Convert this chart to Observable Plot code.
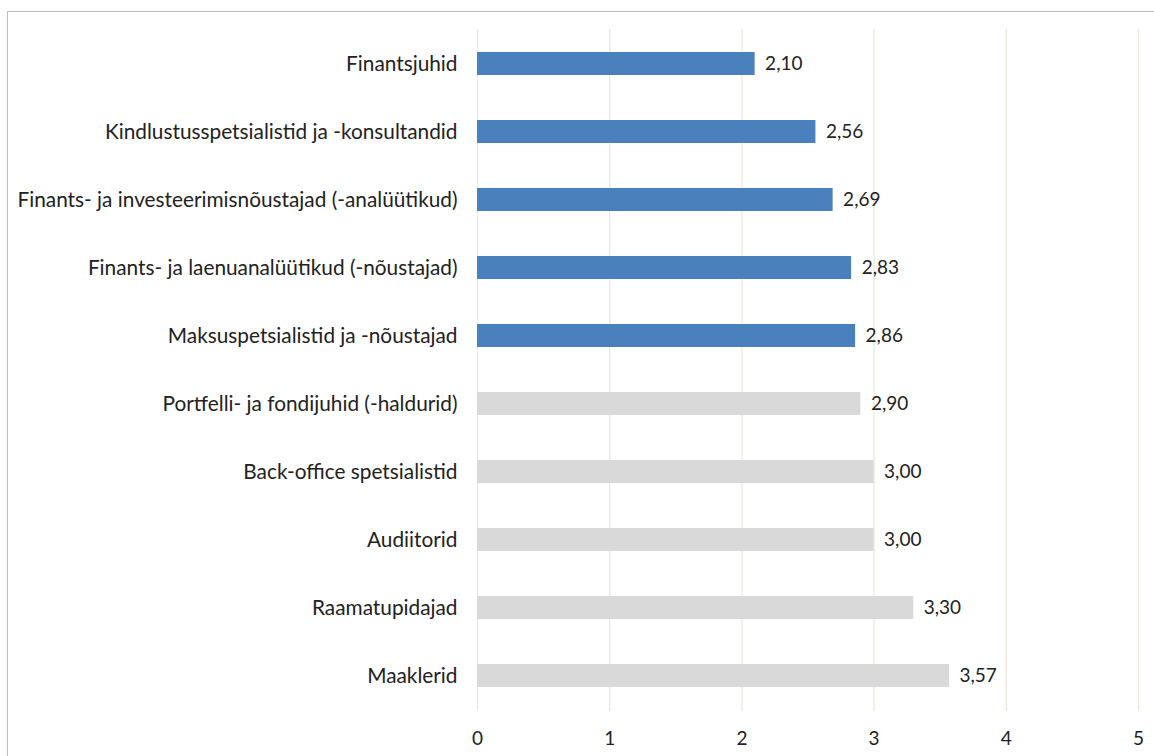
<!DOCTYPE html>
<html>
<head>
<meta charset="utf-8">
<script src="https://cdn.jsdelivr.net/npm/d3@7"></script>
<script src="https://cdn.jsdelivr.net/npm/@observablehq/plot@0.6"></script>
<style>
  html, body { margin: 0; padding: 0; background: #fff; overflow: hidden; }
  #frame { position: absolute; left: 7px; top: 11px; width: 1200px; height: 800px; border-left: 1.5px solid #bfbfbf; border-top: 1.5px solid #bfbfbf; }
  #chart { position: absolute; left: 0; top: 0; }
</style>
</head>
<body>
<div id="frame"></div>
<div id="chart"></div>
<script>
const categories = [
  "Finantsjuhid",
  "Kindlustusspetsialistid ja -konsultandid",
  "Finants- ja investeerimisnõustajad (-analüütikud)",
  "Finants- ja laenuanalüütikud (-nõustajad)",
  "Maksuspetsialistid ja -nõustajad",
  "Portfelli- ja fondijuhid (-haldurid)",
  "Back-office spetsialistid",
  "Audiitorid",
  "Raamatupidajad",
  "Maaklerid"
];
const values = [2.10, 2.56, 2.69, 2.83, 2.86, 2.90, 3.00, 3.00, 3.30, 3.57];
const highlighted = [true, true, true, true, true, false, false, false, false, false];
const xTicks = [0, 1, 2, 3, 4, 5];

const data = categories.map((c, i) => ({category: c, value: values[i], hl: highlighted[i]}));
const fmt = v => v.toFixed(2).replace(".", ",");

const chart = Plot.plot({
  width: 1154,
  height: 756,
  marginLeft: 477,
  marginRight: 16,
  marginTop: 29,
  marginBottom: 45,
  style: {fontFamily: "Lato, 'Open Sans', sans-serif", fontSize: "19px", color: "#222", background: "transparent"},
  x: {domain: [0, 5], label: null},
  y: {domain: categories, paddingInner: 0.66, paddingOuter: 0.33, label: null},
  marks: [
    Plot.gridX(xTicks, {stroke: "#ece5d8", strokeOpacity: 1, strokeWidth: 1.2}),
    Plot.barX(data, {y: "category", x: "value", fill: d => d.hl ? "#4a81bd" : "#d9d9d9"}),
    Plot.text(data, {y: "category", x: "value", text: d => fmt(d.value), textAnchor: "start", dx: 10, fill: "#222", fontSize: 19}),
    Plot.axisX(xTicks, {tickSize: 0, tickPadding: 20, tickFormat: d => String(d), fontSize: 19, fill: "#222", label: null}),
    Plot.axisY({tickSize: 0, tickPadding: 20, fontSize: 20.8, fill: "#222", textAnchor: "end", label: null})
  ]
});
document.getElementById("chart").appendChild(chart);
</script>
</body>
</html>
